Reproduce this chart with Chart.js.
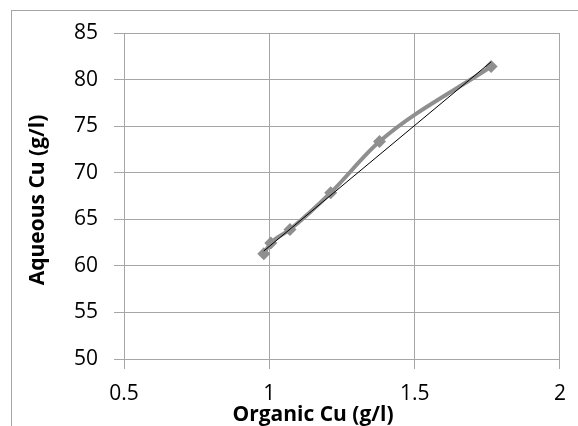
<!DOCTYPE html>
<html>
<head>
<meta charset="utf-8">
<script src="https://cdn.jsdelivr.net/npm/chart.js@4/dist/chart.umd.min.js"></script>
<style>
  html, body { margin: 0; padding: 0; background: #fff; overflow: hidden; }
  #wrap { position: relative; width: 578px; height: 426px; }
  #frame { position: absolute; left: 11px; top: 10px; width: 600px; height: 500px; border: 1px solid #a6a6a6; box-sizing: border-box; }
  canvas { position: absolute; left: 0; top: 0; }
</style>
</head>
<body>
<div id="wrap">
  <div id="frame"></div>
  <canvas id="cu-chart" width="578" height="426"></canvas>
</div>
<script>
const organicCu = [0.981, 1.005, 1.071, 1.211, 1.379, 1.763];
const aqueousCu = [61.3, 62.45, 63.9, 67.85, 73.35, 81.4];
const trendX = [0.981, 1.763];
const trendY = [61.6, 81.9];
const xTicks = [0.5, 1, 1.5, 2];
const yTicks = [50, 55, 60, 65, 70, 75, 80, 85];
const xTitle = 'Organic Cu (g/l)';
const yTitle = 'Aqueous Cu (g/l)';

const pts = organicCu.map((x, i) => ({ x: x, y: aqueousCu[i] }));
const trendPts = trendX.map((x, i) => ({ x: x, y: trendY[i] }));

const fontFam = '"Open Sans", "Liberation Sans", sans-serif';

// Excel places the axis titles a bit off-centre, so draw them by hand
const axisTitles = {
  id: 'axisTitles',
  afterDraw(chart) {
    const ctx = chart.ctx;
    ctx.save();
    ctx.fillStyle = '#000';
    ctx.font = 'bold 21px ' + fontFam;
    ctx.textAlign = 'center';
    ctx.textBaseline = 'alphabetic';
    ctx.fillText(xTitle, 313, 421);
    ctx.translate(44, 200);
    ctx.rotate(-Math.PI / 2);
    ctx.fillText(yTitle, 0, 0);
    ctx.restore();
  }
};

const dataC = {
  datasets: [{
    label: 'Trend',
    data: trendPts,
    showLine: true,
    borderColor: '#000000',
    borderWidth: 1,
    pointRadius: 0,
    order: 0
  }, {
    label: 'Aqueous Cu',
    data: pts,
    showLine: true,
    borderColor: '#8f8f8f',
    backgroundColor: '#8f8f8f',
    borderWidth: 4,
    cubicInterpolationMode: 'monotone',
    pointStyle: 'rectRot',
    pointRadius: 6.5,
    pointBorderWidth: 0,
    order: 1
  }]
};

const configC = {
  type: 'scatter',
  data: dataC,
  plugins: [axisTitles],
  options: {
    responsive: false,
    animation: false,
    layout: { padding: { left: 48, right: 11, top: 33, bottom: 0 } },
    plugins: { legend: { display: false }, tooltip: { enabled: false } },
    scales: {
      x: {
        type: 'linear',
        min: 0.5, max: 2,
        afterBuildTicks: (s) => { s.ticks = xTicks.map(v => ({ value: v })); },
        afterFit: (s) => { s.height = 67; },
        grid: { color: '#a6a6a6', lineWidth: 1, tickLength: 10 },
        border: { color: '#a6a6a6' },
        ticks: { color: '#000', font: { family: fontFam, size: 21 }, padding: 12, maxRotation: 0,
          callback: (v) => String(v) },
        title: { display: false }
      },
      y: {
        type: 'linear',
        min: 50, max: 85,
        afterBuildTicks: (s) => { s.ticks = yTicks.map(v => ({ value: v })); },
        afterFit: (s) => { s.width = 76; },
        grid: { color: '#a6a6a6', lineWidth: 1, tickLength: 10 },
        border: { color: '#a6a6a6' },
        ticks: { color: '#000', font: { family: fontFam, size: 21 }, padding: 16,
          callback: (v) => String(v) },
        title: { display: false }
      }
    }
  }
};

let cuObj = document.getElementById('cu-chart');
let cuChart = new Chart(cuObj, configC);
</script>
</body>
</html>
